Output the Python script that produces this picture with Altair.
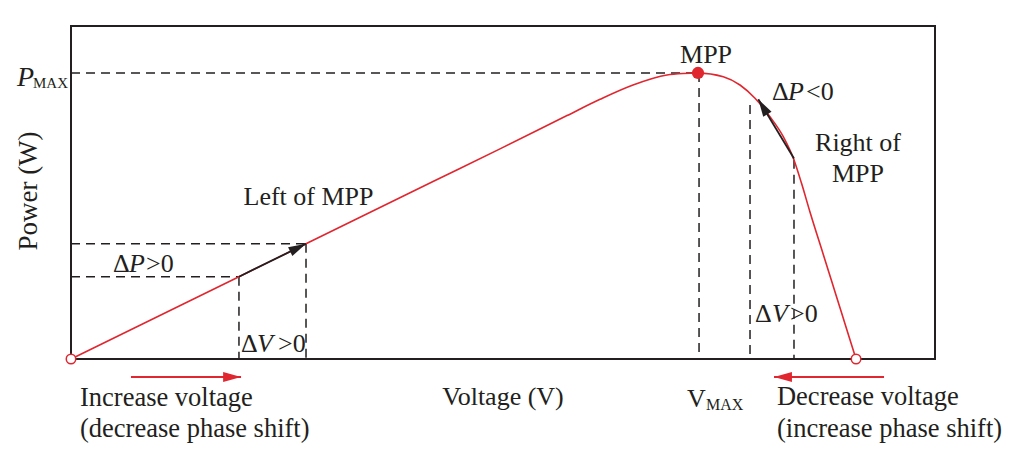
import math
import altair as alt
import pandas as pd

# ---------------- data ----------------
# P-V curve (voltage axis 0..100, power axis 0..100, arbitrary units)
curve_voltage = [0, 19.44, 27.2, 41.90, 49.65, 57.41, 61.23, 65.05, 68.98, 70.83,
                 72.57, 75.50, 77.43, 79.17, 80.90, 82.44, 83.68, 84.57, 85.53,
                 87.07, 88.62, 89.96, 90.86]
curve_power = [0, 24.7, 34.6, 53.3, 63.1, 73.1, 78.0, 82.3, 85.3, 85.75,
               85.89, 84.77, 82.28, 78.29, 72.76, 66.76, 59.76, 52.6, 44.14,
               31.39, 18.55, 7.45, 0]

mpp_voltage = [72.57]
mpp_power = [85.89]
end_voltage = [0, 90.86]
end_power = [0, 0]

# dashed guide lines (start, end)
dash_v1 = [0, 72.69, 0, 0, 19.44, 27.2, 78.59, 83.68]
dash_p1 = [85.89, 85.89, 24.7, 34.6, 24.7, 34.6, 76.3, 59.8]
dash_v2 = [72.57, 72.69, 19.44, 27.2, 19.44, 27.2, 78.59, 83.68]
dash_p2 = [85.89, 0, 24.7, 34.6, 0, 0, 0, 0]

# black perturbation arrows along the curve (start -> tip)
barrow_v1 = [19.44, 83.68]
barrow_p1 = [24.7, 60.2]
barrow_v2 = [27.2, 79.55]
barrow_p2 = [34.6, 78.0]

# red direction arrows under the axis (start -> tip)
rarrow_v1 = [6.94, 94.10]
rarrow_p1 = [-5.41, -5.41]
rarrow_v2 = [19.68, 81.37]
rarrow_p2 = [-5.41, -5.41]

# text labels
label_text = ["P", "MAX", "MPP", "\u0394", "P", "<0", "Right of", "MPP", "Left of MPP",
              "\u0394", "P", ">0", "\u0394", "V", ">0", "\u0394", "V", ">0",
              "Power (W)", "Voltage (V)", "V", "MAX",
              "Increase voltage", "(decrease phase shift)",
              "Decrease voltage", "(increase phase shift)"]
label_v = [-4.28, -0.35, 73.50, 81.13, 82.99, 85.07, 91.09, 91.09, 27.49,
           4.86, 6.71, 8.68, 19.68, 21.53, 23.96, 79.17, 81.13, 83.22,
           -3.94, 50.0, 71.30, 73.50,
           1.04, 1.04, 81.71, 81.71]
label_p = [81.98, 81.38, 88.89, 77.78, 77.78, 77.78, 62.46, 53.15, 46.25,
           26.13, 26.13, 26.13, 2.10, 2.10, 2.10, 11.11, 11.11, 11.11,
           50.45, -13.81, -14.41, -15.32,
           -14.11, -23.42, -13.81, -23.42]
label_size = [28, 15, 26, 26, 26, 26, 26, 26, 26,
              26, 26, 26, 26, 26, 26, 26, 26, 26,
              27, 26, 26, 16,
              26.5, 26.5, 26.5, 26.5]
label_italic = [True, False, False, False, True, False, False, False, False,
                False, True, False, False, True, False, False, True, False,
                False, False, False, False,
                False, False, False, False]
label_align = ["right", "right", "center", "left", "left", "left", "center", "center", "center",
               "left", "left", "left", "left", "left", "left", "left", "left", "left",
               "center", "center", "left", "left",
               "left", "left", "left", "left"]
label_angle = [0] * 18 + [270] + [0] * 7

# ---------------- style ----------------
W, H = 864, 333
RED = "#e0262f"
INK = "#231f20"
FONT = "Liberation Serif"
ARROW = "M0,0L-2,-0.55L-2,0.55Z"

xs = alt.Scale(domain=[0, 100], nice=False, zero=False)
ys = alt.Scale(domain=[0, 100], nice=False, zero=False)


def X(f):
    return alt.X(f, type="quantitative", scale=xs, axis=None)


def Y(f):
    return alt.Y(f, type="quantitative", scale=ys, axis=None)


def X2(f):
    return alt.X2(f)


def Y2(f):
    return alt.Y2(f)


def angle_of(v1, p1, v2, p2):
    return math.degrees(math.atan2(-(p2 - p1) * H / 100.0, (v2 - v1) * W / 100.0)) % 360


layers = []

# frame
frame = alt.Chart(pd.DataFrame({"v1": [0], "v2": [100], "p1": [0], "p2": [100]})).mark_rect(
    filled=False, stroke=INK, strokeWidth=2
).encode(x=X("v1"), x2=X2("v2"), y=Y("p1"), y2=Y2("p2"))
layers.append(frame)

# dashed guides
dash_df = pd.DataFrame({"v1": dash_v1, "p1": dash_p1, "v2": dash_v2, "p2": dash_p2})
layers.append(
    alt.Chart(dash_df).mark_rule(color=INK, strokeWidth=1.5, strokeDash=[9, 6]).encode(
        x=X("v1"), y=Y("p1"), x2=X2("v2"), y2=Y2("p2"))
)

# curve
curve_df = pd.DataFrame({"v": curve_voltage, "p": curve_power})
layers.append(
    alt.Chart(curve_df).mark_line(color=RED, strokeWidth=1.6, interpolate="monotone").encode(
        x=X("v"), y=Y("p"))
)

# black arrows
ba = pd.DataFrame({"v1": barrow_v1, "p1": barrow_p1, "v2": barrow_v2, "p2": barrow_p2})
ba["ang"] = [angle_of(a, b, c, d) for a, b, c, d in zip(barrow_v1, barrow_p1, barrow_v2, barrow_p2)]
layers.append(
    alt.Chart(ba).mark_rule(color=INK, strokeWidth=1.8).encode(
        x=X("v1"), y=Y("p1"), x2=X2("v2"), y2=Y2("p2"))
)
layers.append(
    alt.Chart(ba).mark_point(shape=ARROW, filled=True, color=INK, size=310, opacity=1).encode(
        x=X("v2"), y=Y("p2"), angle=alt.Angle("ang:Q", scale=None))
)

# red arrows
ra = pd.DataFrame({"v1": rarrow_v1, "p1": rarrow_p1, "v2": rarrow_v2, "p2": rarrow_p2})
ra["ang"] = [angle_of(a, b, c, d) for a, b, c, d in zip(rarrow_v1, rarrow_p1, rarrow_v2, rarrow_p2)]
layers.append(
    alt.Chart(ra).mark_rule(color=RED, strokeWidth=2).encode(
        x=X("v1"), y=Y("p1"), x2=X2("v2"), y2=Y2("p2"))
)
layers.append(
    alt.Chart(ra).mark_point(shape=ARROW, filled=True, color=RED, size=320, opacity=1).encode(
        x=X("v2"), y=Y("p2"), angle=alt.Angle("ang:Q", scale=None))
)

# end points and MPP
layers.append(
    alt.Chart(pd.DataFrame({"v": end_voltage, "p": end_power})).mark_point(
        shape="circle", filled=True, fill="white", stroke=RED, strokeWidth=1.5, size=90, opacity=1
    ).encode(x=X("v"), y=Y("p"))
)
layers.append(
    alt.Chart(pd.DataFrame({"v": mpp_voltage, "p": mpp_power})).mark_point(
        shape="circle", filled=True, color=RED, size=150, opacity=1
    ).encode(x=X("v"), y=Y("p"))
)

# labels
for t, v, p, s, it, al, an in zip(label_text, label_v, label_p, label_size,
                                  label_italic, label_align, label_angle):
    layers.append(
        alt.Chart(pd.DataFrame({"v": [v], "p": [p], "t": [t]})).mark_text(
            font=FONT, fontSize=s, fontStyle="italic" if it else "normal",
            align=al, baseline="alphabetic", angle=an, color=INK
        ).encode(x=X("v"), y=Y("p"), text="t:N")
    )

chart = alt.layer(*layers).properties(
    width=W, height=H,
    padding={"left": 63, "top": 18, "right": 89, "bottom": 99},
    autosize=alt.AutoSizeParams(type="none"),
    background="white",
).configure_view(strokeWidth=0)

chart.save("out.html", embed_options={"renderer": "svg", "actions": False})
